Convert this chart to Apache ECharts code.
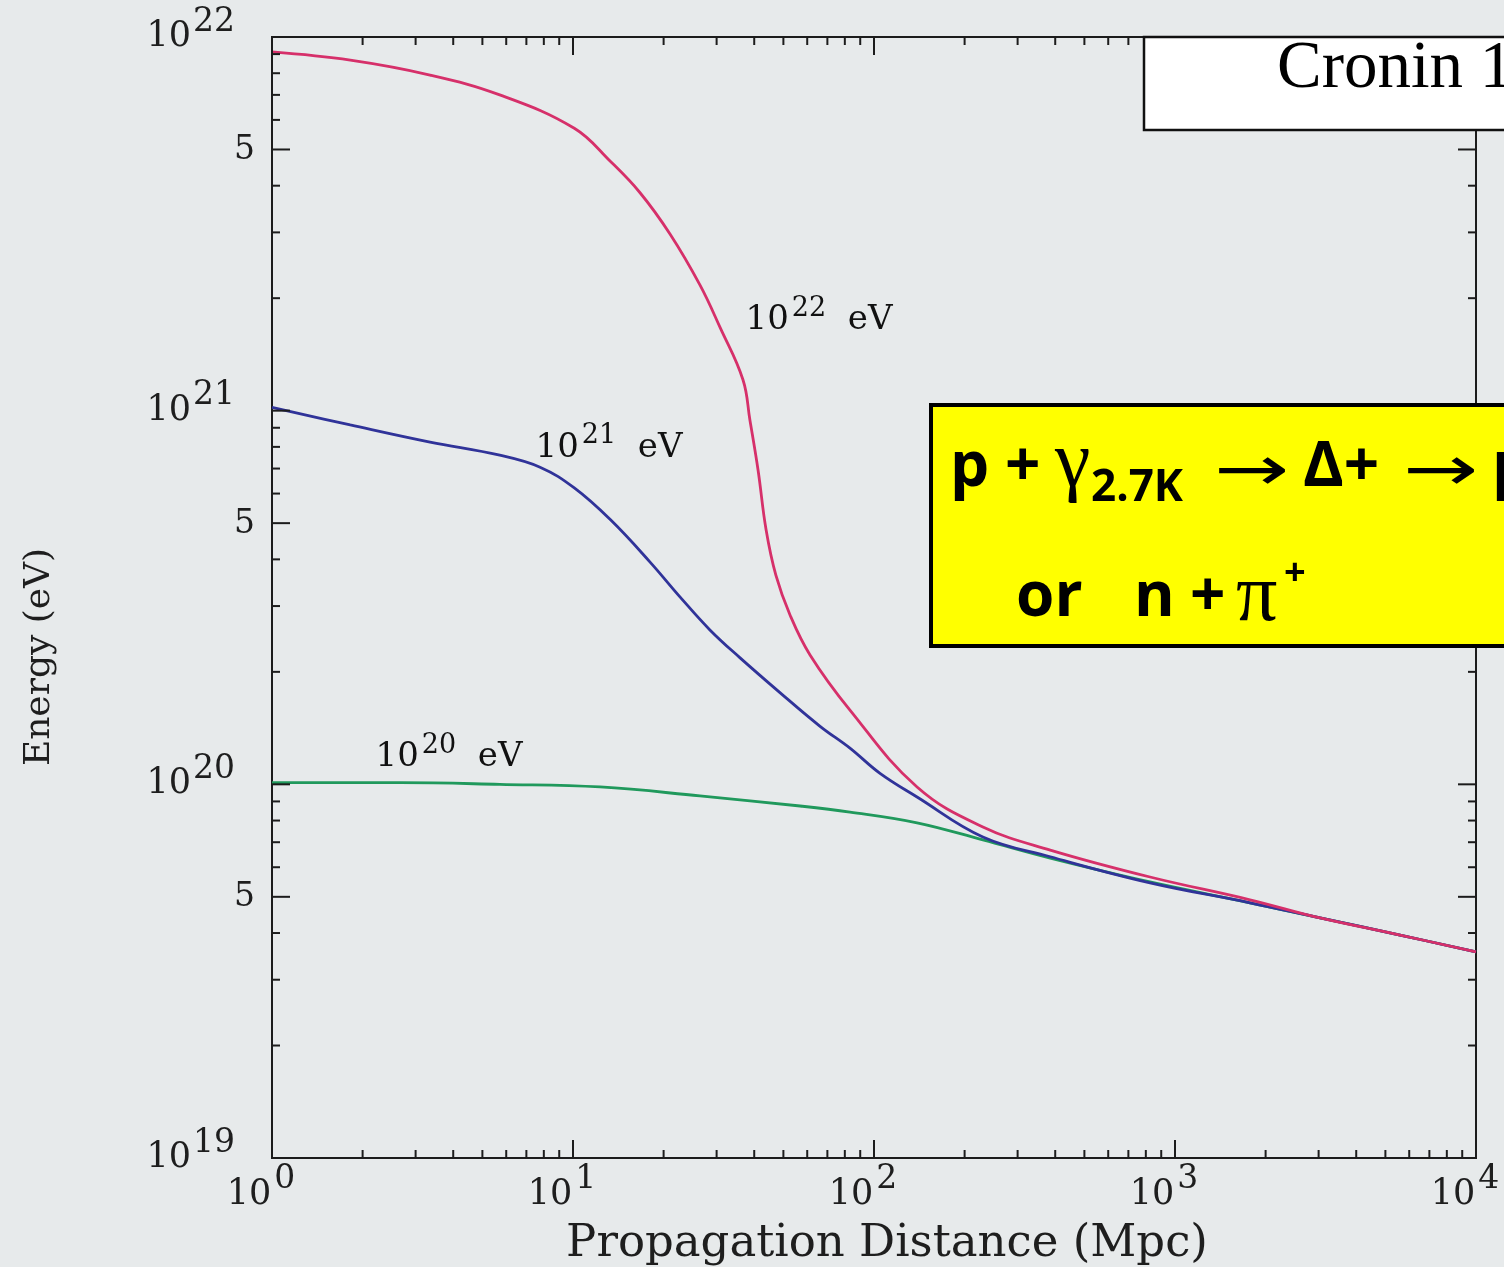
<!DOCTYPE html>
<html>
<head>
<meta charset="utf-8">
<script src="https://cdn.jsdelivr.net/npm/echarts@6/dist/echarts.min.js"></script>
<style>
html,body{margin:0;padding:0;background:#e7eaeb;}
#chart{width:1504px;height:1267px;}
</style>
</head>
<body>
<div id="chart"></div>
<script>
// ---------------- data ----------------
// propagation distance (Mpc) and energy (eV) for protons starting at 1e22 eV
const distance22 = [1, 1.82, 3.35, 5.71, 10.1, 13.3, 16.7, 21.0, 26.4, 30.8, 36.7, 38.7, 41.2, 43.8, 47.2, 52.6, 61.3, 83.2, 139, 230, 385, 826, 1774, 3034, 5594, 10000];
const energy22   = [9.12e21, 8.67e21, 7.91e21, 7.0e21, 5.70e21, 4.65e21, 3.83e21, 2.97e21, 2.17e21, 1.67e21, 1.21e21, 9.44e20, 6.93e20, 4.80e20, 3.63e20, 2.84e20, 2.22e20, 1.58e20, 9.84e19, 7.69e19, 6.67e19, 5.65e19, 4.91e19, 4.39e19, 3.95e19, 3.56e19];

// protons starting at 1e21 eV
const distance21 = [1, 1.82, 3.35, 5.71, 7.77, 10.1, 13.3, 18.0, 22.7, 28.5, 35.9, 48.7, 66.2, 83.2, 104.7, 139, 230, 385, 826, 1774, 3034, 5594, 10000];
const energy21   = [1.02e21, 9.16e20, 8.24e20, 7.60e20, 7.06e20, 6.21e20, 5.11e20, 3.94e20, 3.17e20, 2.59e20, 2.18e20, 1.76e20, 1.43e20, 1.25e20, 1.07e20, 9.25e19, 7.23e19, 6.40e19, 5.45e19, 4.82e19, 4.39e19, 3.95e19, 3.56e19];

// protons starting at 1e20 eV
const distance20 = [1, 2.66, 5.71, 12.3, 26.4, 56.8, 83.2, 139, 230, 385, 826, 1774, 3034, 5594, 10000];
const energy20   = [1.01e20, 1.01e20, 1.00e20, 9.84e19, 9.31e19, 8.75e19, 8.43e19, 7.89e19, 7.10e19, 6.35e19, 5.48e19, 4.82e19, 4.39e19, 3.95e19, 3.56e19];

// curve annotations: exponent text and anchor (distance, energy)
const curveLabelExponents = ['22', '21', '20'];
const curveLabelAnchors = [[37.3, 1.79e21], [7.48, 8.15e20], [2.20, 1.21e20]];

// axis ranges and ticks
const X_MIN = 1, X_MAX = 1e4, Y_MIN = 1e19, Y_MAX = 1e22;
const xMajorTicks = [1, 10, 100, 1000, 10000];
const xMinorTicks = [2,3,4,5,6,7,8,9, 20,30,40,50,60,70,80,90, 200,300,400,500,600,700,800,900, 2000,3000,4000,5000,6000,7000,8000,9000];
const yMajorTicks = [1e19, 1e20, 1e21, 1e22];
const yFiveTicks  = [5e19, 5e20, 5e21];
const yFiveLabels = ['5', '5', '5'];
const yMinorTicks = [2e19,3e19,4e19,6e19,7e19,8e19,9e19, 2e20,3e20,4e20,6e20,7e20,8e20,9e20, 2e21,3e21,4e21,6e21,7e21,8e21,9e21];

// ---------------- styles ----------------
const SERIF = 'DejaVu Serif';
const TIMES = 'Liberation Serif';
const SANS = 'Open Sans';
const TEXT = '#1e1e1e';
const AXIS = '#1c1c1c';
const MAJOR_LEN = 18, MINOR_LEN = 8;

const chart = echarts.init(document.getElementById('chart'), null, {renderer: 'canvas'});

function pairs(xs, ys) { return xs.map((x, i) => [x, ys[i]]); }

function xTickRender(params, api) {
  const v = api.value(0), len = api.value(2);
  const b = api.coord([v, Y_MIN]), t = api.coord([v, Y_MAX]);
  const st = {stroke: AXIS, lineWidth: 2};
  return {type: 'group', children: [
    {type: 'line', shape: {x1: b[0], y1: b[1], x2: b[0], y2: b[1] - len}, style: st},
    {type: 'line', shape: {x1: t[0], y1: t[1], x2: t[0], y2: t[1] + len}, style: st}
  ]};
}
function yTickRender(params, api) {
  const v = api.value(1), len = api.value(2);
  const l = api.coord([X_MIN, v]), r = api.coord([X_MAX, v]);
  const st = {stroke: AXIS, lineWidth: 2};
  return {type: 'group', children: [
    {type: 'line', shape: {x1: l[0], y1: l[1], x2: l[0] + len, y2: l[1]}, style: st},
    {type: 'line', shape: {x1: r[0], y1: r[1], x2: r[0] - len, y2: r[1]}, style: st}
  ]};
}
function yFiveRender(params, api) {
  const v = api.value(1), len = api.value(2);
  const l = api.coord([X_MIN, v]), r = api.coord([X_MAX, v]);
  const st = {stroke: AXIS, lineWidth: 2};
  return {type: 'group', children: [
    {type: 'line', shape: {x1: l[0], y1: l[1], x2: l[0] + len, y2: l[1]}, style: st},
    {type: 'line', shape: {x1: r[0], y1: r[1], x2: r[0] - len, y2: r[1]}, style: st},
    {type: 'text', x: l[0] - 17, y: l[1] + 1, style: {text: yFiveLabels[params.dataIndex], fontFamily: SERIF, fontSize: 33, fill: TEXT, align: 'right', verticalAlign: 'middle'}}
  ]};
}

const supExp = v => String(Math.round(Math.log10(v)));

const boxText = (text, x, y, font, size, weight, extra) => Object.assign({
  type: 'text', z: 102, x: x, y: y,
  style: {text: text, fontFamily: font, fontSize: size, fontWeight: weight, fill: '#000', align: 'left', verticalAlign: 'middle'}
}, extra || {});

const option = {
  backgroundColor: '#e7eaeb',
  animation: false,
  grid: {left: 272, right: 28, top: 37, bottom: 109, show: true, borderColor: AXIS, borderWidth: 2, backgroundColor: 'transparent'},
  xAxis: {
    type: 'log', logBase: 10, min: X_MIN, max: X_MAX, splitNumber: 4,
    axisLine: {show: false}, axisTick: {show: false}, splitLine: {show: false},
    axisLabel: {
      margin: 5, padding: [0, 22, 0, 0], showMinLabel: true, showMaxLabel: true,
      formatter: v => '{b|10}{s|' + supExp(v) + '}',
      rich: {
        b: {fontFamily: SERIF, fontSize: 35, color: TEXT, lineHeight: 49, verticalAlign: 'bottom'},
        s: {fontFamily: SERIF, fontSize: 33, color: TEXT, verticalAlign: 'top', padding: [0, 0, 0, 3]}
      }
    }
  },
  yAxis: {
    type: 'log', logBase: 10, min: Y_MIN, max: Y_MAX, splitNumber: 3,
    axisLine: {show: false}, axisTick: {show: false}, splitLine: {show: false},
    axisLabel: {
      margin: 37, padding: [0, 0, 14, 0], showMinLabel: true, showMaxLabel: true,
      formatter: v => '{b|10}{s|' + supExp(v) + '}',
      rich: {
        b: {fontFamily: SERIF, fontSize: 35, color: TEXT, lineHeight: 49, verticalAlign: 'bottom'},
        s: {fontFamily: SERIF, fontSize: 33, color: TEXT, verticalAlign: 'top', padding: [0, 0, 0, 2]}
      }
    }
  },
  series: [
    {name: '1e20 eV', type: 'line', data: pairs(distance20, energy20), showSymbol: false, smooth: 0.4, silent: true, z: 3,
     lineStyle: {color: '#20995c', width: 2.8}},
    {name: '1e21 eV', type: 'line', data: pairs(distance21, energy21), showSymbol: false, smooth: 0.4, silent: true, z: 4,
     lineStyle: {color: '#303399', width: 2.8}},
    {name: '1e22 eV', type: 'line', data: pairs(distance22, energy22), showSymbol: false, smooth: 0.4, silent: true, z: 5,
     lineStyle: {color: '#d6306a', width: 2.8}},
    {type: 'custom', silent: true, z: 6, clip: false, renderItem: xTickRender, encode: {x: 0, y: 1},
     data: xMajorTicks.map(v => [v, Y_MIN, MAJOR_LEN]).concat(xMinorTicks.map(v => [v, Y_MIN, MINOR_LEN]))},
    {type: 'custom', silent: true, z: 6, clip: false, renderItem: yTickRender, encode: {x: 0, y: 1},
     data: yMajorTicks.map(v => [X_MIN, v, MAJOR_LEN]).concat(yMinorTicks.map(v => [X_MIN, v, MINOR_LEN]))},
    {type: 'custom', silent: true, z: 6, clip: false, renderItem: yFiveRender, encode: {x: 0, y: 1},
     data: yFiveTicks.map(v => [X_MIN, v, MAJOR_LEN])},
    {type: 'scatter', silent: true, z: 7, symbolSize: 1, itemStyle: {color: 'rgba(0,0,0,0)'},
     data: curveLabelAnchors,
     label: {
       show: true, position: 'right', distance: 0, color: TEXT, opacity: 1,
       formatter: p => '{b|10}{s|' + curveLabelExponents[p.dataIndex] + '}{b|  eV}',
       rich: {
         b: {fontFamily: SERIF, fontSize: 34, color: '#111', opacity: 1, lineHeight: 42, verticalAlign: 'bottom'},
         s: {fontFamily: SERIF, fontSize: 27, color: '#111', opacity: 1, verticalAlign: 'top', padding: [0, 0, 0, 3]}
       }
     }}
  ],
  graphic: [
    // axis titles
    {type: 'text', z: 50, x: 40, y: 657, rotation: Math.PI / 2,
     style: {text: 'Energy (eV)', fontFamily: SERIF, fontSize: 36, fill: TEXT, align: 'center', verticalAlign: 'middle'}},
    {type: 'text', z: 50, x: 887, y: 1244,
     style: {text: 'Propagation Distance (Mpc)', fontFamily: SERIF, fontSize: 45, fill: TEXT, align: 'center', verticalAlign: 'middle'}},
    // citation box
    {type: 'rect', z: 100, shape: {x: 1144, y: 37, width: 420, height: 93}, style: {fill: '#ffffff', stroke: '#111', lineWidth: 2.5}},
    {type: 'text', z: 101, x: 1277, y: 69, style: {text: 'Cronin 1999', fontFamily: TIMES, fontSize: 67, fill: '#000', align: 'left', verticalAlign: 'middle'}},
    // reaction box
    {type: 'rect', z: 100, shape: {x: 931, y: 405, width: 640, height: 241}, style: {fill: '#ffff00', stroke: '#000', lineWidth: 4}},
    boxText('p', 950, 468, SANS, 62, 'bold'),
    boxText('+', 1005, 468, SANS, 62, 'bold'),
    boxText('γ', 1055, 465, TIMES, 80, 'normal'),
    boxText('2.7K', 1091, 488, SANS, 44, 'bold'),
    boxText('→', 1214, 474, 'DejaVu Sans', 62, 'normal', {scaleX: 1.45}),
    boxText('Δ+', 1303, 468, SANS, 62, 'bold'),
    boxText('→', 1403, 474, 'DejaVu Sans', 62, 'normal', {scaleX: 1.45}),
    boxText('p', 1492, 468, SANS, 62, 'bold'),
    boxText('or', 1016, 598, SANS, 62, 'bold'),
    boxText('n', 1134, 598, SANS, 62, 'bold'),
    boxText('+', 1190, 598, SANS, 62, 'bold'),
    boxText('π', 1236, 598, TIMES, 82, 'normal'),
    boxText('+', 1284, 574, SANS, 38, 'bold')
  ]
};

chart.setOption(option);
</script>
</body>
</html>
